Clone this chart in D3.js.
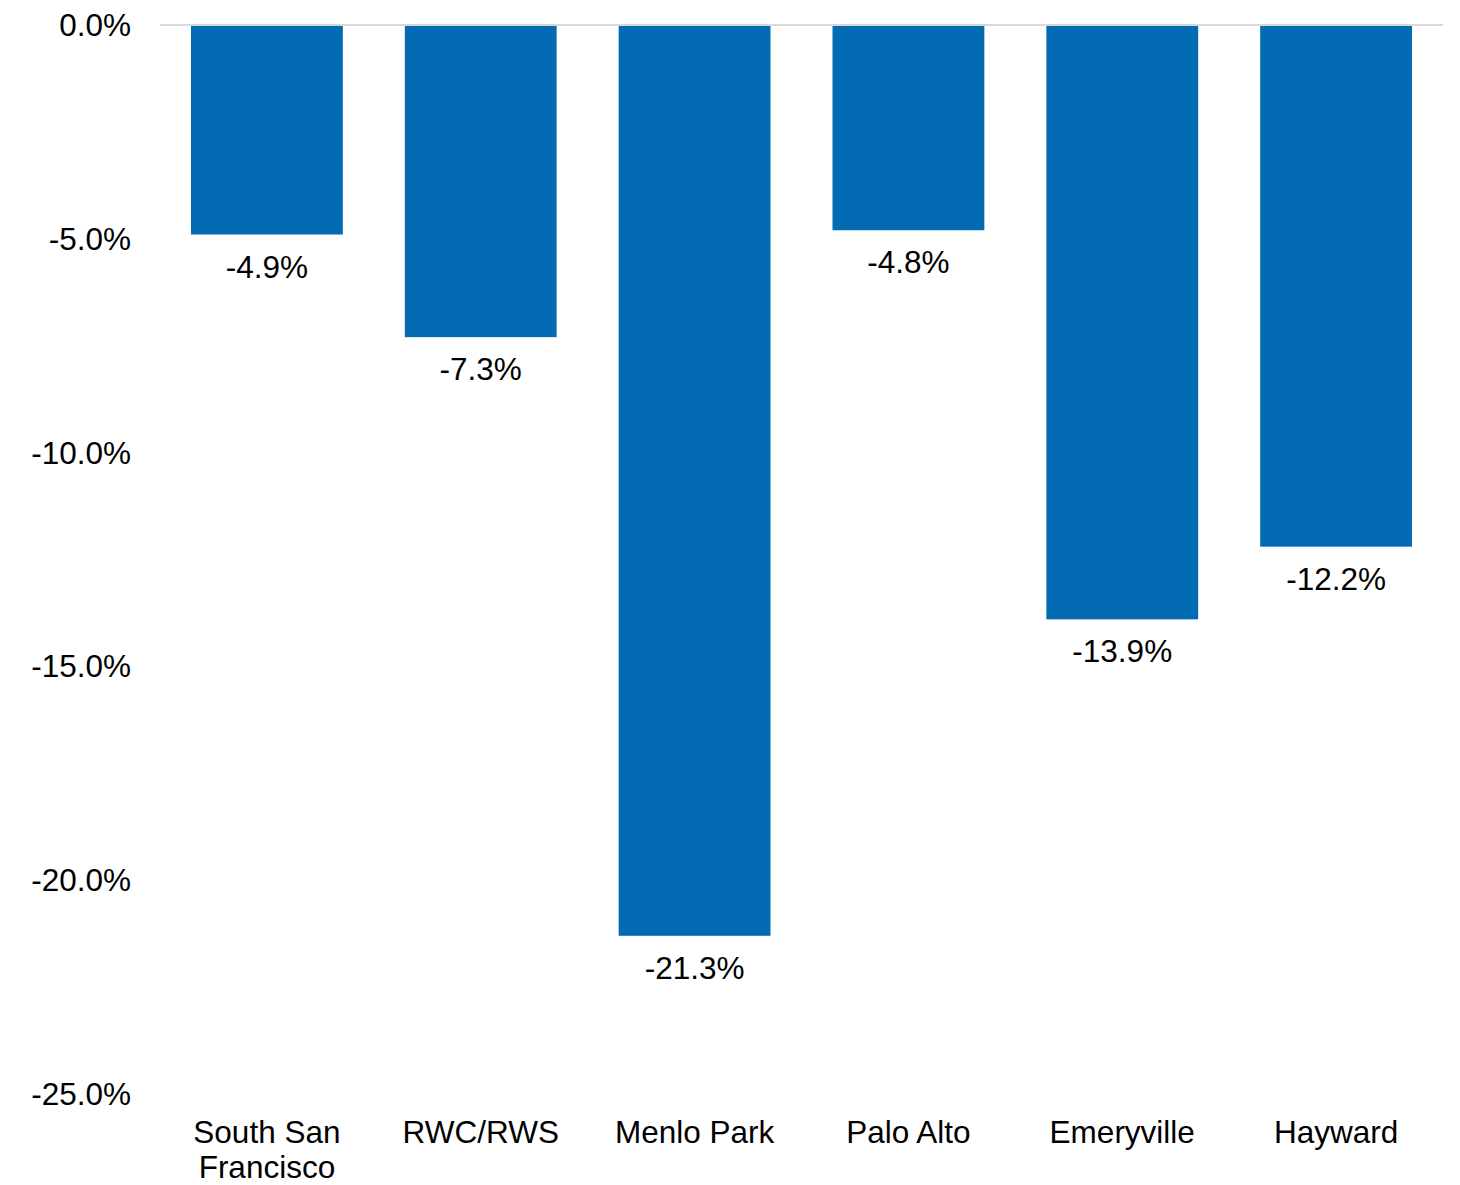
<!DOCTYPE html>
<html>
<head>
<meta charset="utf-8">
<script src="https://cdn.jsdelivr.net/npm/d3@7"></script>
<style>
  html, body { margin: 0; padding: 0; background: #fff; }
  svg { display: block; font-family: "Liberation Sans", Arial, sans-serif; }
</style>
</head>
<body>
<svg id="chart" width="1460" height="1185"></svg>
<script>
// Percent change by submarket
const categories = ["South San Francisco", "RWC/RWS", "Menlo Park", "Palo Alto", "Emeryville", "Hayward"];
const categoryLines = [["South San", "Francisco"], ["RWC/RWS"], ["Menlo Park"], ["Palo Alto"], ["Emeryville"], ["Hayward"]];
const values = [-4.9, -7.3, -21.3, -4.8, -13.9, -12.2];
const yTicks = [0, -5, -10, -15, -20, -25];

const svg = d3.select("#chart");
const margin = { top: 25, right: 17, bottom: 91, left: 160 };
const width = 1460 - margin.left - margin.right;
const height = 1185 - margin.top - margin.bottom;
const fontSize = 31.5;

const g = svg.append("g").attr("transform", `translate(${margin.left},${margin.top})`);

const x = d3.scaleBand().domain(categories).range([0, width]).paddingInner(0.29).paddingOuter(0.145);
const y = d3.scaleLinear().domain([0, -25]).range([0, height]);

// plain hyphen-minus, one decimal
const fmt = d => (d === 0 ? 0 : d).toFixed(1) + "%";

// y-axis tick labels
g.selectAll(".ytick")
  .data(yTicks)
  .enter().append("text")
  .attr("x", -29)
  .attr("y", d => y(d))
  .attr("dy", "0.35em")
  .attr("text-anchor", "end")
  .attr("font-size", fontSize)
  .attr("fill", "#000")
  .text(fmt);

// bars
g.selectAll(".bar")
  .data(values)
  .enter().append("rect")
  .attr("x", (d, i) => x(categories[i]))
  .attr("y", y(0))
  .attr("width", x.bandwidth())
  .attr("height", d => y(d) - y(0))
  .attr("fill", "#036bb4");

// zero baseline
g.append("line")
  .attr("x1", 0).attr("x2", width)
  .attr("y1", y(0)).attr("y2", y(0))
  .attr("stroke", "#d9d9d9")
  .attr("stroke-width", 2);

// value labels below each bar
g.selectAll(".vlabel")
  .data(values)
  .enter().append("text")
  .attr("x", (d, i) => x(categories[i]) + x.bandwidth() / 2)
  .attr("y", d => y(d) + 43)
  .attr("text-anchor", "middle")
  .attr("font-size", fontSize)
  .attr("fill", "#000")
  .text(fmt);

// category labels
const cat = g.selectAll(".cat")
  .data(categories)
  .enter().append("text")
  .attr("x", d => x(d) + x.bandwidth() / 2)
  .attr("y", height + 49)
  .attr("text-anchor", "middle")
  .attr("font-size", fontSize)
  .attr("fill", "#000");
cat.selectAll("tspan")
  .data((d, i) => categoryLines[i])
  .enter().append("tspan")
  .attr("x", function () { return d3.select(this.parentNode).attr("x"); })
  .attr("dy", (d, i) => i === 0 ? 0 : 35)
  .text(d => d);
</script>
</body>
</html>
